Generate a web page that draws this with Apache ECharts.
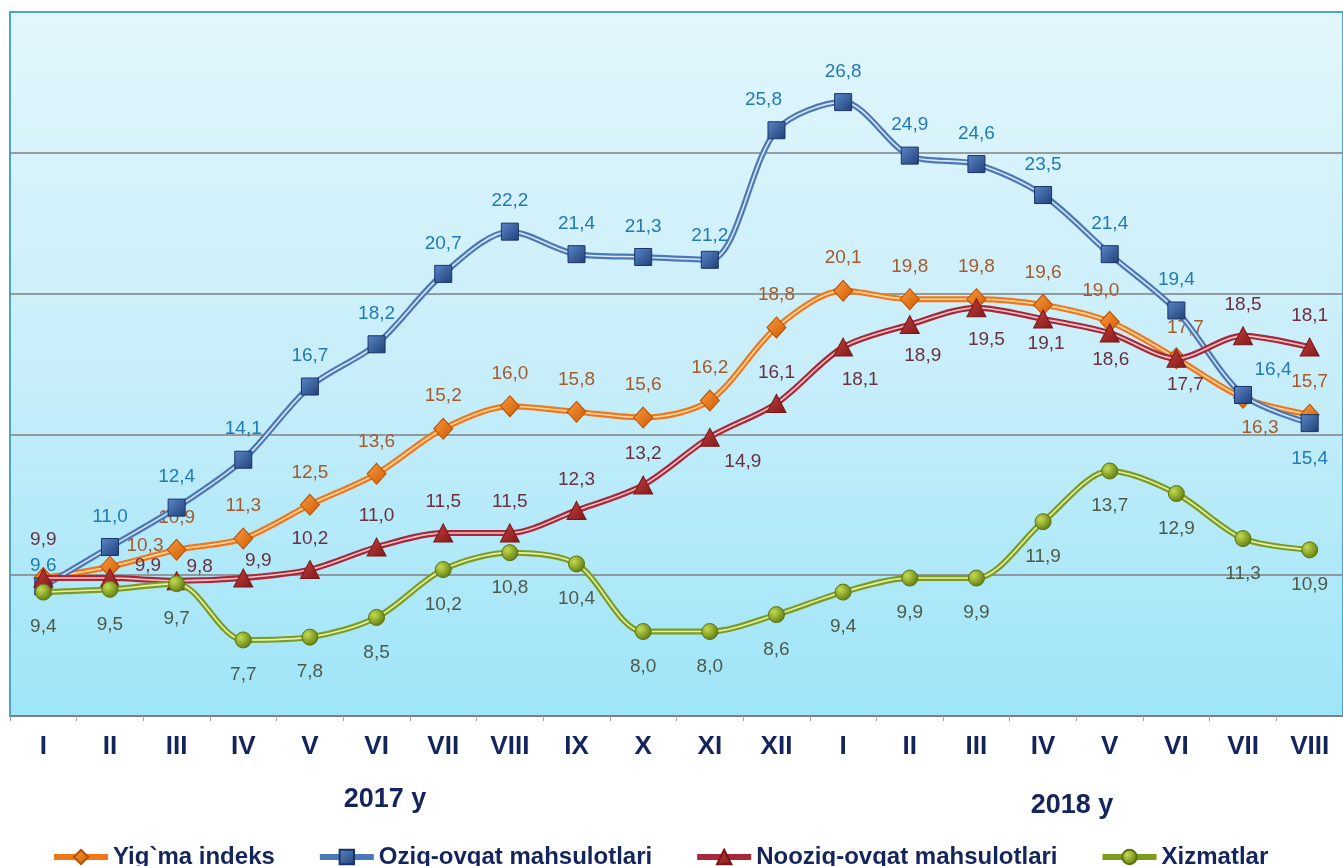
<!DOCTYPE html>
<html><head><meta charset="utf-8">
<script src="https://cdn.jsdelivr.net/npm/echarts@6/dist/echarts.min.js"></script>
<style>html,body{margin:0;padding:0;background:#fff}#c{width:1343px;height:866px}</style>
</head><body><div id="c"></div>
<script>
// ---- data ----
const categories = ['I','II','III','IV','V','VI','VII','VIII','IX','X','XI','XII','I','II','III','IV','V','VI','VII','VIII'];
const yearLabels = ['2017 y', '2018 y'];
const seriesNames = ['Yig`ma indeks', 'Oziq-ovqat mahsulotlari', 'Nooziq-ovqat mahsulotlari', 'Xizmatlar'];
const yigmaIndeks = [9.9,10.3,10.9,11.3,12.5,13.6,15.2,16.0,15.8,15.6,16.2,18.8,20.1,19.8,19.8,19.6,19.0,17.7,16.3,15.7];
const oziqOvqat   = [9.6,11.0,12.4,14.1,16.7,18.2,20.7,22.2,21.4,21.3,21.2,25.8,26.8,24.9,24.6,23.5,21.4,19.4,16.4,15.4];
const nooziqOvqat = [9.9,9.9,9.8,9.9,10.2,11.0,11.5,11.5,12.3,13.2,14.9,16.1,18.1,18.9,19.5,19.1,18.6,17.7,18.5,18.1];
const xizmatlar   = [9.4,9.5,9.7,7.7,7.8,8.5,10.2,10.8,10.4,8.0,8.0,8.6,9.4,9.9,9.9,11.9,13.7,12.9,11.3,10.9];
const yMin = 5, yMax = 30, yStep = 5;

// ---- styles ----
const FONT = '"Liberation Sans Narrow","Arial Narrow","Liberation Sans",Arial,sans-serif';
const LFONT = '"Liberation Sans",Arial,sans-serif';
const NAVY = '#14245c';
function lin(c1, c2) { return new echarts.graphic.LinearGradient(0,0,1,1,[{offset:0,color:c1},{offset:1,color:c2}]); }
function rad(c1, c2) { return new echarts.graphic.RadialGradient(0.35,0.35,0.7,[{offset:0,color:c1},{offset:1,color:c2}]); }
const styles = [
  { values: yigmaIndeks, outer:'#f07818', inner:'#ffd9b0', symbol:'diamond', size:[19,21],
    fill: lin('#ff9a3a','#c85a08'), border:'#b85000', label:'#a65a2a', pos:'top', dist:12, hide:[0],
    over:{1:{offset:[35,12]},16:{offset:[-9,2]},17:{offset:[9,2]},18:{pos:'bottom',dist:15,offset:[17,-6]}} },
  { values: oziqOvqat, outer:'#4a78b8', inner:'#dce8f8', symbol:'rect', size:[17,17],
    fill: lin('#5a88c8','#1f3f78'), border:'#1a3468', label:'#1f7ab8', pos:'top', dist:12, hide:[],
    over:{0:{offset:[0,10]},10:{offset:[0,6]},11:{offset:[-13,0]},18:{offset:[30,5]},19:{pos:'bottom',dist:17}} },
  { values: nooziqOvqat, outer:'#a8283a', inner:'#f4c8c8', symbol:'triangle', size:[19,18],
    fill: lin('#c84040','#801818'), border:'#7a1818', label:'#6a3040', pos:'top', dist:12, hide:[],
    over:{0:{offset:[0,-7]},1:{offset:[38,19]},2:{offset:[23,17]},3:{offset:[15,14]},
          10:{pos:'bottom',dist:17,offset:[33,-11]},12:{pos:'bottom',dist:17,offset:[17,-3]},
          13:{pos:'bottom',dist:17,offset:[13,-5]},14:{pos:'bottom',dist:17,offset:[10,-4]},
          15:{pos:'bottom',dist:17,offset:[3,-11]},16:{pos:'bottom',dist:17,offset:[1,-9]},
          17:{pos:'bottom',dist:17,offset:[9,-10]}} },
  { values: xizmatlar, outer:'#7e9c1e', inner:'#e4f2b4', symbol:'circle', size:[16,16],
    fill: rad('#c4dc50','#5e7a10'), border:'#5a7410', label:'#4d5a48', pos:'bottom', dist:17, hide:[],
    over:{} }
];

const series = [];
styles.forEach((s, i) => {
  // thick coloured outer stroke
  series.push({
    type:'line', name: seriesNames[i] + ' ', data: s.values, smooth: 0.3, symbol:'none', silent:true,
    z: 2 + i*2, lineStyle:{ color: s.outer, width: 6 }, label:{show:false}
  });
  // light inner stripe + markers + labels
  series.push({
    type:'line', name: seriesNames[i], smooth: 0.3, z: 3 + i*2,
    symbol: s.symbol, symbolSize: s.size, showAllSymbol: true,
    itemStyle:{ color: s.fill, borderColor: s.border, borderWidth: 1 },
    lineStyle:{ color: s.inner, width: 1.6 },
    label:{ show:true, position: s.pos, distance: s.dist, color: s.label, fontSize: 19, fontFamily: LFONT,
      formatter: p => p.value.toFixed(1).replace('.', ',') },
    data: s.values.map((v, k) => {
      const o = s.over[k];
      const item = { value: v };
      if (s.hide.includes(k)) item.label = { show:false };
      else if (o) item.label = { position: o.pos || s.pos, distance: o.dist || s.dist, offset: o.offset || [0,0] };
      return item;
    })
  });
});

const chart = echarts.init(document.getElementById('c'), null, { renderer:'canvas' });
chart.setOption({
  backgroundColor:'#ffffff',
  animation:false,
  grid:{ left:10, right:-5, top:12, bottom:150, show:true,
    backgroundColor: new echarts.graphic.LinearGradient(0,0,0,1,[{offset:0,color:'#e2f6fc'},{offset:0.5,color:'#c8eefa'},{offset:1,color:'#9ee5f8'}]),
    borderColor:'#48a6c8', borderWidth:2 },
  xAxis:{ type:'category', data: categories, boundaryGap:true,
    axisLine:{ show:true, lineStyle:{ color:'#808080', width:2 } },
    axisTick:{ show:true, length:5, lineStyle:{ color:'#a0a0a0' } },
    axisLabel:{ color: NAVY, fontSize: 26, fontWeight:'bold', fontFamily: FONT, margin: 18 },
    splitLine:{ show:false } },
  yAxis:{ type:'value', min:yMin, max:yMax, interval:yStep,
    axisLabel:{ show:false }, axisLine:{ show:false }, axisTick:{ show:false },
    splitLine:{ show:true, showMinLine:false, showMaxLine:false, lineStyle:{ color:'#808080', width:1.5 } } },
  legend:{ left:46, top:840, itemGap:42, itemWidth:54, itemHeight:18,
    textStyle:{ color: NAVY, fontSize: 24, fontWeight:'bold', fontFamily: FONT },
    data: seriesNames.map((n, i) => ({ name:n, lineStyle:{ color: styles[i].outer, width:6 } })) },
  graphic:[
    { type:'text', x:385, y:800, style:{ text: yearLabels[0], font:'bold 27px ' + FONT, fill: NAVY, align:'center', verticalAlign:'middle' } },
    { type:'text', x:1072, y:806, style:{ text: yearLabels[1], font:'bold 27px ' + FONT, fill: NAVY, align:'center', verticalAlign:'middle' } }
  ],
  series: series
});
</script>
</body></html>
